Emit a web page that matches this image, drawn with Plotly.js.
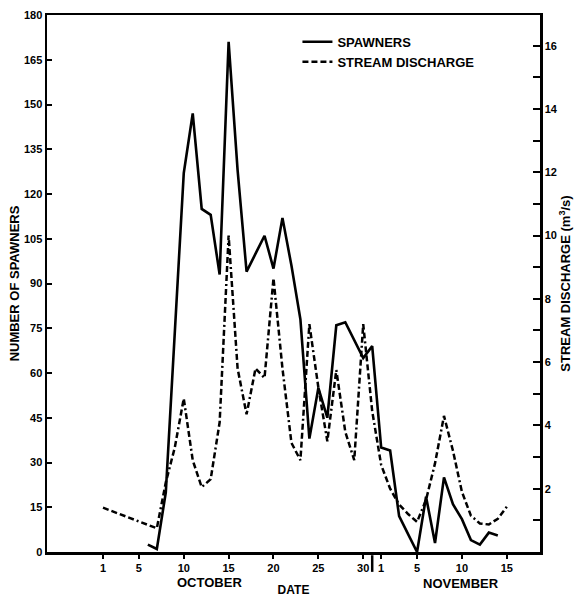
<!DOCTYPE html>
<html>
<head>
<meta charset="utf-8">
<script src="https://cdn.plot.ly/plotly-3.0.1.min.js"></script>
<style>html,body{margin:0;padding:0;background:#fff;}#chart{width:578px;height:597px;}</style>
</head>
<body>
<div id="chart"></div>
<script>
// Day numbers: Oct 1 = 1 ... Oct 31 = 31, Nov 1 = 32 ... Nov 15 = 46
const spawnerDays = [6,7,8,9,10,11,12,13,14,15,16,17,18,19,20,21,22,23,24,25,26,27,28,29,30,31,32,33,34,35,36,37,38,39,40,41,42,43,44,45];
const spawners    = [2.5,1,20,73,127,147,115,113,93,171,128,94,100,106,95,112,96,78,38,55,45,76,77,71,65,69,35,34,12,6,0,18.5,3,25,16,11,4,2.5,6.5,5.5];

const dischargeDays = [1,7,8,9,10,11,12,13,14,15,16,17,18,19,20,21,22,23,24,25,26,27,28,29,30,31,32,33,34,35,36,37,38,39,40,41,42,43,44,45,46];
const discharge     = [1.4,0.75,2.2,3.3,4.85,2.9,2.05,2.3,4.1,10.0,5.8,4.35,5.8,5.5,8.65,5.8,3.45,2.9,7.2,5.2,3.5,5.75,3.8,2.9,7.2,4.45,2.75,2.0,1.5,1.2,0.95,1.65,2.8,4.3,3.2,1.9,1.15,0.9,0.87,1.05,1.43];

const xTickVals  = [1,5,10,15,20,25,30,32,36,41,46];
const xTickText  = ['1','5','10','15','20','25','30','1','5','10','15'];
const yLeftTicks = [0,15,30,45,60,75,90,105,120,135,150,165,180];
const yRightTicks = [2,4,6,8,10,12,14,16];
const yRightMinor = [1,3,5,7,9,11,13,15];

const FONT = 'Liberation Sans, Arial, Helvetica, sans-serif';

const traces = [
  {x: spawnerDays, y: spawners, name: 'SPAWNERS', type: 'scatter', mode: 'lines',
   line: {color: '#000', width: 2.6}, yaxis: 'y'},
  {x: dischargeDays, y: discharge, name: 'STREAM DISCHARGE', type: 'scatter', mode: 'lines',
   line: {color: '#000', width: 2.5, dash: '6px,3px,6px,3px,6px,3px,6px,3px,2px,3px'}, yaxis: 'y2'}
];

const layout = {
  width: 578, height: 597,
  margin: {l: 47, r: 38, t: 15, b: 45},
  paper_bgcolor: '#fff', plot_bgcolor: '#fff',
  font: {family: FONT, size: 11, color: '#000', weight: 'bold'},
  showlegend: true,
  legend: {x: 0.508, xanchor: 'left', y: 0.978, yanchor: 'top', bgcolor: 'rgba(0,0,0,0)',
           font: {family: FONT, size: 13, color: '#000', weight: 'bold'}, tracegroupgap: 0},
  xaxis: {range: [-5.24, 49.7], tickmode: 'array', tickvals: xTickVals, ticktext: xTickText,
          ticks: 'outside', ticklen: 4, tickwidth: 2, tickcolor: '#000',
          showline: true, linewidth: 2.5, linecolor: '#000', mirror: true,
          showgrid: false, zeroline: false,
          tickfont: {family: FONT, size: 11, color: '#000', weight: 'bold'},
          title: {text: 'DATE', font: {family: FONT, size: 12, color: '#000', weight: 'bold'}, standoff: 18}},
  yaxis: {range: [0, 180], tickmode: 'array', tickvals: yLeftTicks,
          ticks: 'inside', ticklen: 5, tickwidth: 2, tickcolor: '#000',
          showline: true, linewidth: 2.5, linecolor: '#000',
          showgrid: false, zeroline: false,
          tickfont: {family: FONT, size: 11, color: '#000', weight: 'bold'},
          title: {text: 'NUMBER OF SPAWNERS', font: {family: FONT, size: 13, color: '#000', weight: 'bold'}, standoff: 2}},
  yaxis2: {range: [0, 16.97], overlaying: 'y', side: 'right', tickmode: 'array',
           tickvals: yRightTicks,
           ticks: 'inside', ticklen: 7, tickwidth: 2, tickcolor: '#000',
           minor: {tickmode: 'array', tickvals: yRightMinor, ticks: 'inside', ticklen: 7, tickwidth: 2, tickcolor: '#000', showgrid: false},
           showline: true, linewidth: 2.5, linecolor: '#000',
           showgrid: false, zeroline: false,
           tickfont: {family: FONT, size: 11, color: '#000', weight: 'bold'},
           title: {text: 'STREAM DISCHARGE (m<sup>3</sup>/s)', font: {family: FONT, size: 13, color: '#000', weight: 'bold'}, standoff: 4}},
  shapes: [
    {type: 'line', xref: 'x', yref: 'paper', x0: 31, x1: 31, y0: -0.006, y1: -0.037,
     line: {color: '#000', width: 2.5}}
  ],
  annotations: [
    {text: 'OCTOBER', xref: 'x', yref: 'paper', x: 12.9, y: -0.056, showarrow: false,
     xanchor: 'center', yanchor: 'middle', font: {family: FONT, size: 13, color: '#000', weight: 'bold'}},
    {text: 'NOVEMBER', xref: 'x', yref: 'paper', x: 40.9, y: -0.058, showarrow: false,
     xanchor: 'center', yanchor: 'middle', font: {family: FONT, size: 13, color: '#000', weight: 'bold'}}
  ]
};

Plotly.newPlot('chart', traces, layout, {staticPlot: true, displayModeBar: false});
</script>
</body>
</html>
